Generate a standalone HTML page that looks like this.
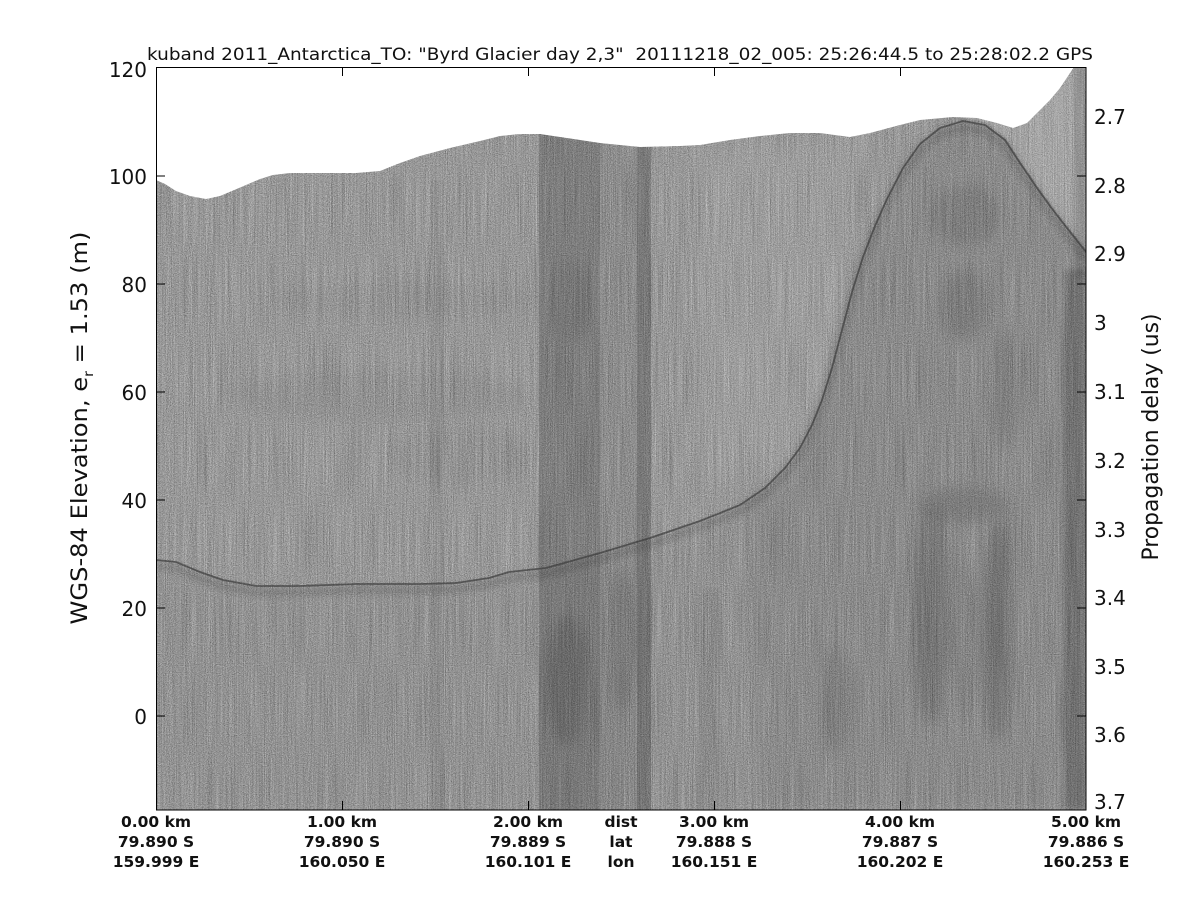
<!DOCTYPE html>
<html>
<head>
<meta charset="utf-8">
<style>
  html,body{margin:0;padding:0;background:#fff;}
  svg{display:block;}
  text{font-family:"DejaVu Sans","Liberation Sans",sans-serif;fill:#111;}
  .tk{font-size:20px;}
  .bl{font-size:15.5px;font-weight:bold;text-anchor:middle;}
</style>
</head>
<body>
<svg width="1200" height="900" viewBox="0 0 1200 900" xmlns="http://www.w3.org/2000/svg">
  <defs>
    <clipPath id="pc"><rect x="156" y="67.5" width="930" height="742.5"/></clipPath>
    <filter id="noise" x="156" y="67" width="930" height="743" filterUnits="userSpaceOnUse" color-interpolation-filters="sRGB">
      <feTurbulence type="fractalNoise" baseFrequency="1.1 0.012" numOctaves="2" seed="7" result="t"/>
      <feColorMatrix in="t" type="matrix" values="0.6 0.6 0.6 0 -0.31  0.6 0.6 0.6 0 -0.31  0.6 0.6 0.6 0 -0.31  0 0 0 0 0.35"/>
    </filter>
    <filter id="speck" x="156" y="67" width="930" height="743" filterUnits="userSpaceOnUse" color-interpolation-filters="sRGB">
      <feTurbulence type="fractalNoise" baseFrequency="0.95 0.9" numOctaves="1" seed="11" result="t"/>
      <feColorMatrix in="t" type="matrix" values="0.9 0.9 0.9 0 -0.75  0.9 0.9 0.9 0 -0.75  0.9 0.9 0.9 0 -0.75  0 0 0 0 0.3"/>
    </filter>
    <filter id="blur6" x="-50%" y="-50%" width="200%" height="200%"><feGaussianBlur stdDeviation="6"/></filter>
    <filter id="blur12" x="-50%" y="-50%" width="200%" height="200%"><feGaussianBlur stdDeviation="12"/></filter>
    <filter id="blur3" x="-20%" y="-20%" width="140%" height="140%"><feGaussianBlur stdDeviation="3"/></filter>
  </defs>

  <!-- Title -->
  <text x="620" y="60" text-anchor="middle" font-size="16.5" textLength="946" lengthAdjust="spacingAndGlyphs">kuband 2011_Antarctica_TO: "Byrd Glacier day 2,3"&#160; 20111218_02_005: 25:26:44.5 to 25:28:02.2 GPS</text>

  <g clip-path="url(#pc)">
    <!-- base -->
    <rect x="156" y="67" width="930" height="743" fill="#979797"/>
    <!-- texture -->
    <rect x="156" y="67" width="930" height="743" filter="url(#noise)"/>
    <rect x="156" y="67" width="930" height="743" filter="url(#speck)"/>

    <!-- slight darkening below bed -->
    <path d="M156,566 L256,592 L456,589 L546,574 L700,527 L740,511 L760,810 L156,810 Z" fill="#000" opacity="0.03" filter="url(#blur6)"/>
    <!-- hump interior darker -->
    <path d="M760,810 L740,505 L765,488 L785,468 L800,448 L812,425 L822,400 L832,368 L842,330 L852,292 L863,257 L875,226 L887,199 L903,168 L920,144 L940,128 L963,121 L985,125 L1005,140 L1020,163 L1037,188 L1053,210 L1067,228 L1086,252 L1086,810 Z" fill="#000" opacity="0.08" filter="url(#blur6)"/>
    <!-- lighter region right of hump -->
    <path d="M963,118 L985,122 L1005,137 L1020,160 L1037,185 L1053,207 L1067,225 L1086,249 L1086,67 L963,67 Z" fill="#fff" opacity="0.13"/>
    <path d="M700,140 L860,140 L845,300 L820,400 L760,470 L700,480 Z" fill="#fff" opacity="0.05" filter="url(#blur12)"/>

    <!-- vertical bands -->
    <rect x="539" y="120" width="61" height="690" fill="#000" opacity="0.17"/>
    <rect x="600" y="120" width="37" height="690" fill="#000" opacity="0.07"/>
    <rect x="637" y="120" width="14" height="690" fill="#000" opacity="0.2"/>
    <rect x="430" y="180" width="14" height="630" fill="#000" opacity="0.04"/>
    <rect x="700" y="590" width="20" height="220" fill="#000" opacity="0.05" filter="url(#blur3)"/>

    <g filter="url(#blur6)">
      <ellipse cx="566" cy="680" rx="22" ry="65" fill="#000" opacity="0.12"/>
      <ellipse cx="622" cy="640" rx="14" ry="70" fill="#000" opacity="0.09"/>
      <ellipse cx="570" cy="300" rx="25" ry="40" fill="#000" opacity="0.06"/>
      <ellipse cx="400" cy="300" rx="130" ry="18" fill="#000" opacity="0.03"/>
      <ellipse cx="380" cy="395" rx="150" ry="25" fill="#000" opacity="0.035"/>
      <ellipse cx="460" cy="455" rx="70" ry="28" fill="#000" opacity="0.03"/>
      <!-- hump blobs -->
      <ellipse cx="965" cy="215" rx="35" ry="30" fill="#000" opacity="0.09"/>
      <ellipse cx="962" cy="305" rx="25" ry="35" fill="#000" opacity="0.09"/>
      <ellipse cx="963" cy="505" rx="45" ry="18" fill="#000" opacity="0.10"/>
      <ellipse cx="930" cy="615" rx="18" ry="110" fill="#000" opacity="0.14"/>
      <ellipse cx="997" cy="630" rx="14" ry="110" fill="#000" opacity="0.17"/>
      <ellipse cx="963" cy="640" rx="14" ry="80" fill="#000" opacity="0.05"/>
      <ellipse cx="835" cy="700" rx="15" ry="55" fill="#000" opacity="0.07"/>
      <ellipse cx="1003" cy="390" rx="12" ry="60" fill="#000" opacity="0.08"/>
    </g>
    <!-- right edge strip -->
    <rect x="1064" y="270" width="22" height="540" fill="#000" opacity="0.18" filter="url(#blur3)"/>
    <rect x="1074" y="67" width="12" height="210" fill="#000" opacity="0.12" filter="url(#blur3)"/>

    <!-- bed / hump reflector -->
    <path d="M156,566 L176,568 L200,578 L223,586 L256,592 L300,592 L356,590 L420,590 L456,589 L489,584 L509,578 L546,574 L600,559 L650,544 L700,527 L740,511 L765,494 L785,474 L800,454 L812,431 L822,406 L832,374 L842,336 L852,298 L863,263 L875,232 L887,205 L903,174 L920,150 L940,134 L963,127 L985,131 L1005,146 L1020,169 L1037,194 L1053,216 L1067,234 L1086,258" fill="none" stroke="#000" stroke-width="9" opacity="0.12" filter="url(#blur3)"/>
    <path d="M156,560 L176,562 L200,572 L223,580 L256,586 L300,586 L356,584 L420,584 L456,583 L489,578 L509,572 L546,568 L600,553 L650,538 L700,521 L740,505 L765,488 L785,468 L800,448 L812,425 L822,400 L832,368 L842,330 L852,292 L863,257 L875,226 L887,199 L903,168 L920,144 L940,128 L963,121 L985,125 L1005,140 L1020,163 L1037,188 L1053,210 L1067,228 L1086,252" fill="none" stroke="#3a3a3a" stroke-width="1.8" stroke-linejoin="round" opacity="0.7"/>

    <!-- white above surface -->
    <path d="M150,60 L156,60 L156,180 L165,184 L176,191 L190,196 L206,199 L220,196 L239,188 L260,179 L273,175 L290,173 L356,173 L380,171 L400,163 L420,156 L450,148 L480,141 L500,136 L520,134 L540,134 L560,137 L600,143 L640,147 L680,146 L700,145 L730,140 L760,136 L790,133 L820,133 L850,137 L870,133 L900,125 L920,120 L953,117 L977,118 L997,123 L1013,128 L1027,123 L1040,110 L1050,100 L1060,88 L1068,76 L1074,67 L1074,60 Z" fill="#fff"/>
  </g>

  <!-- axes box -->
  <rect x="156.5" y="67.5" width="929.5" height="742.5" fill="none" stroke="#000" stroke-width="1"/>
  <g stroke="#000" stroke-width="1">
    <line x1="156" y1="716" x2="165" y2="716"/><line x1="1086" y1="716" x2="1077" y2="716"/>
    <line x1="156" y1="608" x2="165" y2="608"/><line x1="1086" y1="608" x2="1077" y2="608"/>
    <line x1="156" y1="500" x2="165" y2="500"/><line x1="1086" y1="500" x2="1077" y2="500"/>
    <line x1="156" y1="392" x2="165" y2="392"/><line x1="1086" y1="392" x2="1077" y2="392"/>
    <line x1="156" y1="284" x2="165" y2="284"/><line x1="1086" y1="284" x2="1077" y2="284"/>
    <line x1="156" y1="176" x2="165" y2="176"/><line x1="1086" y1="176" x2="1077" y2="176"/>
    <line x1="342.5" y1="810" x2="342.5" y2="801"/><line x1="342.5" y1="67" x2="342.5" y2="76"/>
    <line x1="528.5" y1="810" x2="528.5" y2="801"/><line x1="528.5" y1="67" x2="528.5" y2="76"/>
    <line x1="714.5" y1="810" x2="714.5" y2="801"/><line x1="714.5" y1="67" x2="714.5" y2="76"/>
    <line x1="900.5" y1="810" x2="900.5" y2="801"/><line x1="900.5" y1="67" x2="900.5" y2="76"/>
  </g>

  <!-- left tick labels -->
  <g class="tk" text-anchor="end">
    <text x="147" y="77">120</text>
    <text x="147" y="184">100</text>
    <text x="147" y="292">80</text>
    <text x="147" y="400">60</text>
    <text x="147" y="508">40</text>
    <text x="147" y="616">20</text>
    <text x="147" y="724">0</text>
  </g>

  <!-- right tick labels -->
  <g class="tk" text-anchor="start">
    <text x="1094" y="124">2.7</text>
    <text x="1094" y="193">2.8</text>
    <text x="1094" y="261">2.9</text>
    <text x="1094" y="330">3</text>
    <text x="1094" y="399">3.1</text>
    <text x="1094" y="468">3.2</text>
    <text x="1094" y="537">3.3</text>
    <text x="1094" y="605">3.4</text>
    <text x="1094" y="674">3.5</text>
    <text x="1094" y="742">3.6</text>
    <text x="1094" y="809">3.7</text>
  </g>

  <!-- axis labels -->
  <text transform="translate(87,428) rotate(-90)" text-anchor="middle" font-size="22" textLength="393" lengthAdjust="spacingAndGlyphs">WGS-84 Elevation, e<tspan font-size="13" dy="6">r</tspan><tspan dy="-6"> = 1.53 (m)</tspan></text>
  <text transform="translate(1158,437) rotate(-90)" text-anchor="middle" font-size="22" textLength="247" lengthAdjust="spacingAndGlyphs">Propagation delay (us)</text>

  <!-- bottom labels -->
  <g class="bl">
    <text x="156" y="827">0.00 km</text><text x="156" y="847">79.890 S</text><text x="156" y="867">159.999 E</text>
    <text x="342" y="827">1.00 km</text><text x="342" y="847">79.890 S</text><text x="342" y="867">160.050 E</text>
    <text x="528" y="827">2.00 km</text><text x="528" y="847">79.889 S</text><text x="528" y="867">160.101 E</text>
    <text x="621" y="827">dist</text><text x="621" y="847">lat</text><text x="621" y="867">lon</text>
    <text x="714" y="827">3.00 km</text><text x="714" y="847">79.888 S</text><text x="714" y="867">160.151 E</text>
    <text x="900" y="827">4.00 km</text><text x="900" y="847">79.887 S</text><text x="900" y="867">160.202 E</text>
    <text x="1086" y="827">5.00 km</text><text x="1086" y="847">79.886 S</text><text x="1086" y="867">160.253 E</text>
  </g>
</svg>
</body>
</html>
